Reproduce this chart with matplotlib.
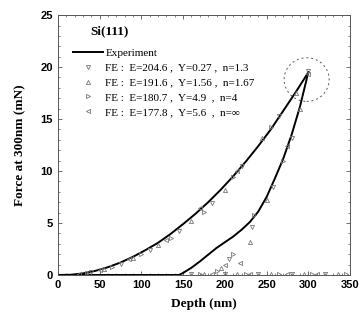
import numpy as np
import matplotlib
matplotlib.use("Agg")
import matplotlib.pyplot as plt
from matplotlib.patches import Ellipse

# experiment: loading and unloading branches (depth nm, force mN)
load_depth = [0, 15, 30, 45, 60, 75, 90, 105, 120, 135, 150, 165, 180, 195, 210, 225, 240, 255, 270, 285, 300]
load_force = [0, 0.02, 0.15, 0.4, 0.75, 1.2, 1.75, 2.4, 3.1, 3.95, 4.9, 5.9, 7.0, 8.2, 9.5, 10.9, 12.4, 14.0, 15.8, 17.6, 19.5]
unload_depth = [0, 60, 120, 145, 150, 160, 170, 180, 190, 200, 210, 220, 230, 240, 250, 260, 270, 280, 290, 300]
unload_force = [0, 0, 0, 0, 0.2, 0.7, 1.3, 1.95, 2.6, 3.15, 3.7, 4.35, 5.1, 6.1, 7.5, 9.3, 11.2, 13.5, 16.2, 19.5]

# FE results (scattered symbols)
fe1_depth = [40, 75, 110, 145, 185, 220, 265, 300, 280, 258, 232, 205, 160, 200, 240, 280, 320]
fe1_force = [0.3, 1.1, 2.4, 4.2, 6.9, 10.5, 15.3, 19.6, 13.2, 8.5, 4.6, 1.5, 0.1, 0.1, 0.1, 0.1, 0.1]
fe2_depth = [55, 90, 120, 160, 200, 245, 285, 290, 250, 230, 195, 175, 215, 255, 295, 335]
fe2_force = [0.6, 1.6, 2.9, 5.2, 8.2, 13.2, 17.5, 16.0, 7.2, 3.2, 0.7, 0.1, 0.1, 0.1, 0.1, 0.1]
fe3_depth = [35, 65, 100, 135, 175, 210, 255, 270, 235, 210, 190, 170, 225, 265, 305, 345]
fe3_force = [0.2, 0.8, 2.0, 3.6, 6.1, 9.4, 14.2, 11.0, 5.8, 2.0, 0.4, 0.1, 0.1, 0.1, 0.1, 0.1]
fe4_depth = [25, 50, 85, 130, 170, 215, 300, 275, 218, 200, 185, 230, 275, 310]
fe4_force = [0.1, 0.5, 1.5, 3.4, 6.4, 10.0, 19.3, 12.4, 1.2, 1.0, 0.1, 0.1, 0.1, 0.1]

fe_labels = ['FE :  E=204.6 ,  Y=0.27 ,  n=1.3',
             'FE :  E=191.6 ,  Y=1.56 ,  n=1.67',
             'FE :  E=180.7 ,  Y=4.9  ,  n=4',
             'FE :  E=177.8 ,  Y=5.6  ,  n=\u221e']

fig = plt.figure(figsize=(3.62, 3.22), dpi=100)
ax = fig.add_axes([0.160, 0.146, 0.807, 0.807])

ax.plot(load_depth, load_force, color='black', lw=1.4, label='Experiment')
ax.plot(unload_depth, unload_force, color='black', lw=1.4)

markers = ['v', '^', '>', '<']
for d, f, m, lab in zip([fe1_depth, fe2_depth, fe3_depth, fe4_depth],
                        [fe1_force, fe2_force, fe3_force, fe4_force],
                        markers, fe_labels):
    ax.plot(d, f, ls='none', marker=m, ms=3, mfc='none', mec='#777777', mew=0.6, label=lab)

# dashed circle around the maximum load point
ax.add_patch(Ellipse((298, 18.8), 54, 4.2, fill=False, ls=(0, (2, 3)), lw=0.7, ec='#555555'))

ax.set_xlim(0, 350)
ax.set_ylim(0, 25)
ax.set_xticks(np.arange(0, 351, 50))
ax.set_yticks(np.arange(0, 26, 5))
ax.set_xticks(np.arange(0, 351, 10), minor=True)
ax.set_yticks(np.arange(0, 26, 1), minor=True)
ax.tick_params(which='both', direction='in', top=True, right=True, color='#555555')
ax.tick_params(which='major', length=3, width=0.6)
ax.tick_params(which='minor', length=1.5, width=0.5)
for lab in ax.get_xticklabels() + ax.get_yticklabels():
    lab.set_fontfamily('Liberation Sans')
    lab.set_fontweight('bold')
    lab.set_fontsize(8)
for s in ax.spines.values():
    s.set_linestyle((0, (1.5, 1)))
    s.set_linewidth(0.7)
    s.set_color('#555555')

ax.set_xlabel('Depth (nm)', family='Liberation Serif', fontweight='bold', fontsize=9.5, labelpad=6)
ax.set_ylabel('Force at 300nm (mN)', family='Liberation Serif', fontweight='bold', fontsize=9.5, labelpad=10)

ax.text(62, 23.4, 'Si(111)', family='Liberation Serif', fontweight='bold', fontsize=9.5,
        ha='center', va='center')

leg = ax.legend(loc='upper left', bbox_to_anchor=(0.035, 0.89), frameon=False,
                prop={'family': 'Liberation Serif', 'size': 8},
                handlelength=2.7, handletextpad=0.25, labelspacing=0.45, borderaxespad=0)

fig.savefig('out.png', dpi=100)
